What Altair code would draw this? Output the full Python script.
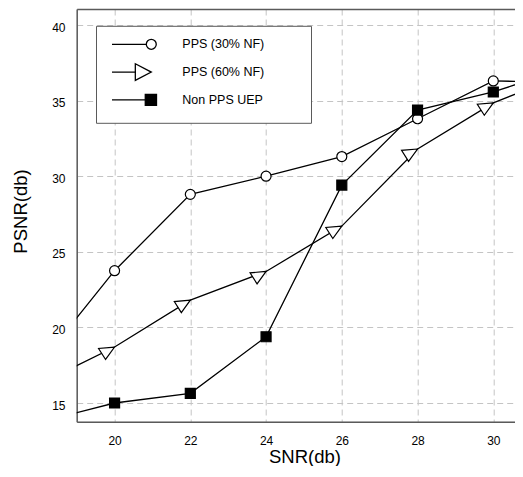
import altair as alt
import pandas as pd

# ---- data ----
snr = [18, 20, 22, 24, 26, 28, 30, 31]
pps30 = [17.5, 23.75, 28.8, 30.0, 31.3, 33.8, 36.3, 36.25]
pps60 = [16.25, 18.7, 21.8, 23.7, 26.7, 31.8, 34.85, 35.85]
nonpps = [13.72, 15.0, 15.64, 19.38, 29.41, 34.37, 35.57, 36.4]
series_names = ["PPS (30% NF)", "PPS (60% NF)", "Non PPS UEP"]
x_ticks = [20, 22, 24, 26, 28, 30]
y_ticks = [15, 20, 25, 30, 35, 40]

rows = []
for name, vals in zip(series_names, [pps30, pps60, nonpps]):
    for x, y in zip(snr, vals):
        rows.append({"snr": x, "psnr": y, "series": name, "marker": bool(20 <= x <= 30)})
df = pd.DataFrame(rows)

FONT = "Liberation Sans"
xs = alt.Scale(domain=[19, 30.573], nice=False, zero=False)
ys = alt.Scale(domain=[13.763, 41.058], nice=False, zero=False)

x_axis = alt.Axis(values=x_ticks, format="d", title="SNR(db)", grid=True,
                  gridDash=[6, 4], gridColor="#c4c4c4", gridWidth=1,
                  ticks=False, tickSize=0, domain=True, domainColor="#5a5a5a",
                  domainWidth=1.5, labelFont=FONT, labelFontSize=12,
                  labelColor="black", labelPadding=13.3, titleFont=FONT,
                  titleFontSize=18.5, titleFontWeight="normal", titleColor="black",
                  titleBaseline="alphabetic", titleX=227.8, titleY=40.3)
y_axis = alt.Axis(values=y_ticks, format="d", title="PSNR(db)", grid=True,
                  gridDash=[6, 4], gridColor="#c4c4c4", gridWidth=1,
                  ticks=False, tickSize=0, domain=True, domainColor="#5a5a5a",
                  domainWidth=1.5, labelFont=FONT, labelFontSize=12,
                  labelColor="black", labelPadding=11.7, labelOffset=2.2,
                  titleFont=FONT, titleFontSize=18.5, titleFontWeight="normal",
                  titleColor="black", titleBaseline="alphabetic", titleX=-50,
                  titleY=202)
top_axis = alt.Axis(orient="top", labels=False, ticks=False, grid=False,
                    domain=True, domainColor="#5a5a5a", domainWidth=1.5, title=None)

marker_shapes = ["circle", "M0,0L-3.2,0.28L-1.8,2.48Z", "square"]
marker_fills = ["white", "white", "black"]
marker_strokes = ["black", "black", "black"]
# invisible move-to points give every legend entry the same extent
legend_box = "M-1.225,-1.45M30.25,1.45"
legend_shapes = [
    legend_box + "M-0.42,0L5.3,0M5.3,0A0.83,0.83,0,1,1,6.96,0A0.83,0.83,0,1,1,5.3,0Z",
    legend_box + "M-0.42,0L3.47,0M3.47,-1.39L6.13,0L3.47,1.39Z",
    legend_box + "M-0.42,0L5.13,0M5.13,-0.92L7,-0.92L7,0.92L5.13,0.92Z",
]

leg = alt.Legend(title=None, orient="none", legendX=19.3, legendY=16.8,
                 padding=11.5, strokeColor="#5a5a5a", fillColor="white",
                 symbolSize=144, symbolStrokeColor="black", symbolStrokeWidth=1.3,
                 symbolOpacity=1, labelFont=FONT, labelFontSize=12.5,
                 labelColor="black", labelOffset=60.8, rowPadding=3.8)

base = alt.Chart(df)

lines = base.mark_line(color="black", strokeWidth=1.3, clip=True).encode(
    x=alt.X("snr:Q", scale=xs, axis=x_axis),
    y=alt.Y("psnr:Q", scale=ys, axis=y_axis),
    detail="series:N",
)

points = base.transform_filter("datum.marker").mark_point(
    filled=True, size=100, stroke="black", strokeWidth=1.2, opacity=1, clip=True
).encode(
    x=alt.X("snr:Q", scale=xs, axis=None),
    y=alt.Y("psnr:Q", scale=ys, axis=y_axis),
    shape=alt.Shape("series:N", scale=alt.Scale(domain=series_names, range=marker_shapes), legend=None),
    fill=alt.Fill("series:N", scale=alt.Scale(domain=series_names, range=marker_fills), legend=None),
)

legend_layer = base.transform_filter("false").mark_point(
    filled=True, strokeWidth=1.3, opacity=1
).encode(
    x=alt.X("snr:Q", scale=xs, axis=top_axis),
    y=alt.Y("psnr:Q", scale=ys, axis=y_axis),
    shape=alt.Shape("series:N", scale=alt.Scale(domain=series_names, range=legend_shapes), legend=leg),
    fill=alt.Fill("series:N", scale=alt.Scale(domain=series_names, range=marker_fills), legend=leg),
    stroke=alt.Stroke("series:N", scale=alt.Scale(domain=series_names, range=marker_strokes), legend=leg),
)

chart = alt.layer(lines, points, legend_layer).resolve_scale(
    shape="independent", fill="independent", stroke="independent"
).resolve_axis(x="independent").properties(
    width=438.3, height=412.7,
    autosize=alt.AutoSizeParams(type="none"),
    padding={"left": 68.7, "top": 1, "right": 0, "bottom": 44.3},
).configure_view(stroke=None).configure_legend(strokeWidth=1.5).configure(font=FONT)

chart.save("out.html", embed_options={"renderer": "svg", "actions": False})
